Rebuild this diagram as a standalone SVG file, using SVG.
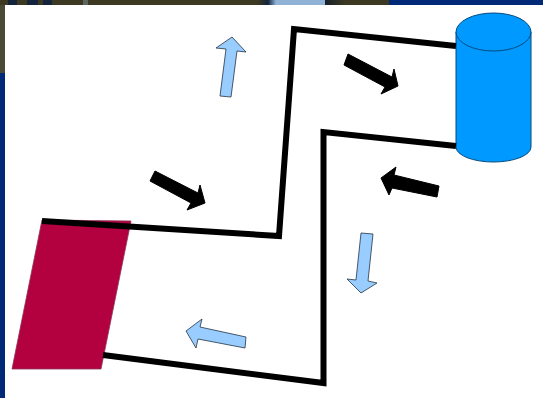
<svg xmlns="http://www.w3.org/2000/svg" width="543" height="398" viewBox="0 0 543 398">
  <style>
    .pipe { fill: none; stroke: #000; stroke-width: 6; stroke-linejoin: miter; }
    .flow { fill: #000; stroke: #000; stroke-width: 1; stroke-linejoin: miter; }
    .air { fill: #99ccff; stroke: #223344; stroke-width: 0.8; }
    .tank { fill: #0099ff; stroke: #004a80; stroke-width: 1; }
  </style>
  <defs>
    <linearGradient id="fadeA" x1="0" x2="1" y1="0" y2="0">
      <stop offset="0" stop-color="#3c3822"/>
      <stop offset="1" stop-color="#13243c"/>
    </linearGradient>
    <linearGradient id="fadeB" x1="0" x2="1" y1="0" y2="0">
      <stop offset="0" stop-color="#13243c"/>
      <stop offset="1" stop-color="#8fb2d6"/>
    </linearGradient>
    <linearGradient id="fadeC" x1="0" x2="1" y1="0" y2="0">
      <stop offset="0" stop-color="#16202a"/>
      <stop offset="1" stop-color="#3c3822"/>
    </linearGradient>
  </defs>

  <g id="background">
    <rect width="543" height="398" fill="#ffffff"/>
    <rect x="0" y="0" width="389" height="5" fill="#3c3822"/>
    <rect x="0" y="5" width="5" height="68" fill="#4a4836"/>
    <rect x="0" y="73" width="5" height="325" fill="#002a78"/>
    <rect x="389" y="0" width="154" height="5" fill="#002a78"/>
    <rect x="8" y="0" width="9" height="5" fill="#13243c"/>
    <rect x="27" y="0" width="11" height="5" fill="#13243c"/>
    <rect x="43" y="0" width="9" height="5" fill="#13243c"/>
    <rect x="83" y="0" width="5" height="5" fill="#5c6660"/>
    <rect x="258" y="0" width="10" height="5" fill="url(#fadeA)"/>
    <rect x="268" y="0" width="8" height="5" fill="url(#fadeB)"/>
    <rect x="276" y="0" width="49" height="5" fill="#8fb2d6"/>
    <rect x="325" y="0" width="20" height="5" fill="url(#fadeC)"/>
  </g>

  <g id="evaporator">
    <polygon points="42,220 131,221 101,369 12,369" fill="#b3003f" stroke="#8a3358" stroke-width="0.8"/>
  </g>

  <g id="condenser">
    <path class="tank" d="M456,32 V147 A37.5,15 0 0 0 531,147 V32 Z"/>
    <ellipse class="tank" cx="493.5" cy="32" rx="37.5" ry="19"/>
  </g>

  <g id="connectors">
    <polyline class="pipe" points="456,46 294,29 279,236 42,221"/>
    <polyline class="pipe" points="456,146 323.500,132 323.500,383 103,355"/>
  </g>

  <g id="flow-arrows">
    <polygon class="flow" points="348,54 344,65 385,87 381,94 398,86 394,69 392,77"/>
    <polygon class="flow" points="155,171 150,181 191,203 187,210 205,203 200,185 198,193"/>
    <polygon class="flow" points="439,186 437,197 392,188 389,195 381,178 396,167 394,175"/>
  </g>

  <g id="air-arrows">
    <polygon class="air" points="232,37 216,48 226,49 220,96 231,97 237,51 246,52"/>
    <polygon class="air" points="361,233 373,234 368,281 377,283 361,293 347,279 356,280"/>
    <polygon class="air" points="186,331 202,319 200,327 246,337 245,348 198,339 196,348"/>
  </g>
</svg>
